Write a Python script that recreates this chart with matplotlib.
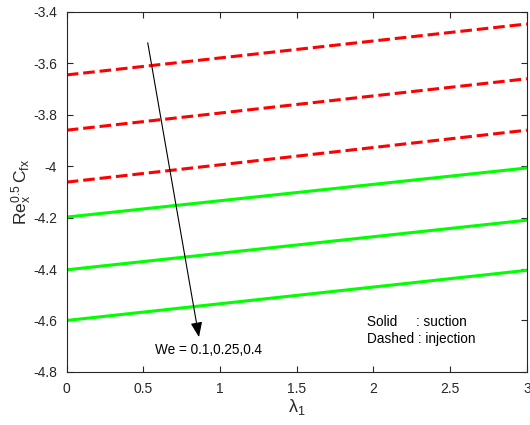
import numpy as np
import matplotlib
matplotlib.use("Agg")
import matplotlib.pyplot as plt

plt.rcParams['font.family'] = ['Liberation Sans', 'DejaVu Sans']
plt.rcParams['mathtext.fontset'] = 'custom'
plt.rcParams['mathtext.rm'] = 'Liberation Sans'
plt.rcParams['mathtext.it'] = 'Liberation Sans'

# lambda_1 endpoints (curves are straight lines)
lam = [0, 3]
# injection (dashed), We = 0.1, 0.25, 0.4
inj_1 = [-3.645, -3.447]
inj_2 = [-3.860, -3.660]
inj_3 = [-4.062, -3.860]
# suction (solid), We = 0.1, 0.25, 0.4
suc_1 = [-4.198, -4.007]
suc_2 = [-4.403, -4.210]
suc_3 = [-4.600, -4.405]

xticks = [0, 0.5, 1, 1.5, 2, 2.5, 3]
yticks = [-4.8, -4.6, -4.4, -4.2, -4, -3.8, -3.6, -3.4]
ytick_labels = ['-4.8', '-4.6', '-4.4', '-4.2', '-4', '-3.8', '-3.6', '-3.4']

fig = plt.figure(figsize=(5.3, 4.25), dpi=100)
ax = fig.add_axes([0.126, 0.125, 0.868, 0.847])

for y in [inj_1, inj_2, inj_3]:
    ax.plot(lam, y, color='#ff0000', lw=2.2, linestyle=(0, (3.8, 1.6)))
for y in [suc_1, suc_2, suc_3]:
    ax.plot(lam, y, color='#00ff00', lw=2.2)

ax.set_xlim(0, 3)
ax.set_ylim(-4.8, -3.4)
ax.set_xticks(xticks)
ax.set_xticklabels([str(t) for t in xticks])
ax.set_yticks(yticks)
ax.set_yticklabels(ytick_labels)
ax.tick_params(direction='in', top=True, right=True, labelsize=10, length=4, width=0.8,
               colors='#262626', pad=7)
for s in ax.spines.values():
    s.set_color('#262626')
    s.set_linewidth(0.8)

ax.annotate('', xy=(0.862, -4.665), xytext=(0.528, -3.52),
            arrowprops=dict(arrowstyle='-|>,head_length=0.9,head_width=0.35',
                            color='black', lw=0.8, shrinkA=0, shrinkB=0))
ax.text(0.574, -4.715, 'We = 0.1,0.25,0.4', fontsize=9.8, va='center', ha='left')
ax.text(1.957, -4.606, 'Solid     : suction', fontsize=9.8, va='center', ha='left')
ax.text(1.957, -4.672, 'Dashed : injection', fontsize=9.8, va='center', ha='left')

ax.set_xlabel(r'$\lambda_1$', fontsize=13, color='#262626', labelpad=1)
ax.set_ylabel(r'$\mathrm{Re}_x^{0.5}\,\mathrm{C}_{fx}$', fontsize=12.5, color='#262626', labelpad=-1)

fig.savefig('out.png', dpi=100)
